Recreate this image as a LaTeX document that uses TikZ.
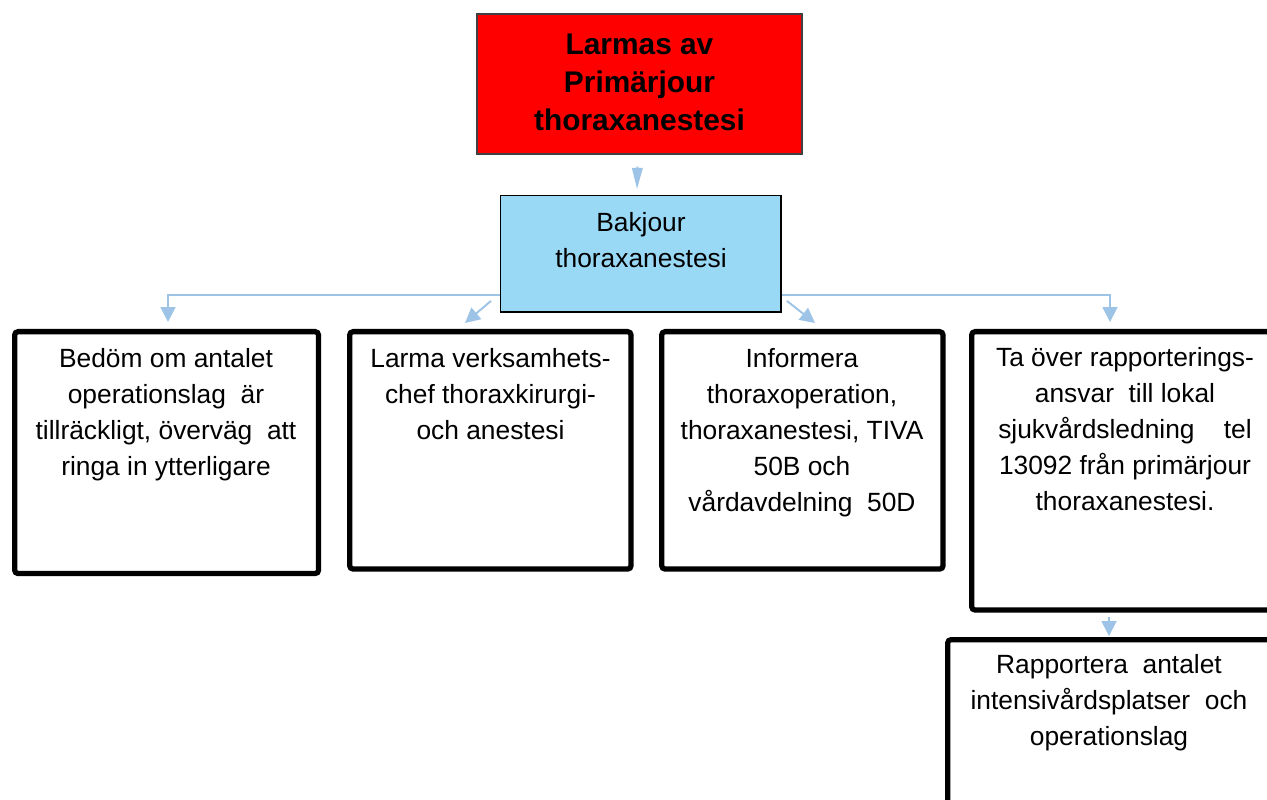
\documentclass[tikz,border=0pt]{standalone}
\usepackage{fontspec}
\setmainfont{Liberation Sans}
\usetikzlibrary{arrows.meta}

\definecolor{alarmred}{RGB}{255,0,0}
\definecolor{leadblue}{RGB}{153,217,245}
\definecolor{flowblue}{RGB}{157,195,230}

\tikzset{
  alarm/.style={draw=black!75, line width=1pt, fill=alarmred, anchor=north west, inner sep=0pt},
  lead/.style={draw=black, line width=0.8pt, fill=leadblue, anchor=north west, inner sep=0pt},
  task/.style={draw=black, line width=3pt, rounded corners=2pt, fill=white, anchor=north west, inner sep=0pt},
  txt/.style={anchor=north, align=center, inner sep=0pt, font=\fontsize{15pt}{20.5pt}\selectfont},
  flow/.style={draw=flowblue, line width=1.1pt, -{Triangle[width=8.5pt, length=8.5pt]}}
}

\begin{document}
\begin{tikzpicture}[x=0.02cm, y=-0.02cm]
\path[use as bounding box, clip] (0,0) rectangle (1267,800);

\node[alarm, minimum width=6.5cm, minimum height=2.8cm] (alarm) at (476,13) {};
\node[lead, minimum width=5.61cm, minimum height=2.33cm] (lead) at (500,195) {};

\node[task, minimum width=6.08cm, minimum height=4.84cm] (rate) at (12,329) {};
\node[task, minimum width=5.63cm, minimum height=4.75cm] (alert) at (347,329) {};
\node[task, minimum width=5.63cm, minimum height=4.75cm] (inform) at (659,329) {};
\node[task, minimum width=6.2cm, minimum height=5.57cm] (report) at (969,329) {};
\node[task, minimum width=6.5cm, minimum height=4.4cm] (count) at (945,637) {};

%%%%%%%%%%%%%%%%%%%%%%%%%%%%%%%%%%%%%%%%

\node[txt, font=\fontsize{17pt}{21.5pt}\selectfont\bfseries] (alarm-text) at (639.5,34)
  {Larmas av\\Primärjour\\thoraxanestesi};
\node[txt] (lead-text) at (641,212) {Bakjour\\thoraxanestesi};
\node[txt] (rate-text) at (166,348)
  {Bedöm om antalet\\operationslag~ är\\tillräckligt, överväg~ att\\ringa in ytterligare};
\node[txt] (alert-text) at (490.5,348)
  {Larma verksamhets-\\chef thoraxkirurgi-\\och anestesi};
\node[txt] (inform-text) at (802,348)
  {Informera\\thoraxoperation,\\thoraxanestesi, TIVA\\50B och\\vårdavdelning~ 50D};
\node[txt] (report-text) at (1125,347)
  {Ta över rapporterings-\\ansvar~ till lokal\\sjukvårdsledning~ ~ tel\\13092 från primärjour\\thoraxanestesi.};
\node[txt] (count-text) at (1109,654)
  {Rapportera~ antalet\\intensivårdsplatser~ och\\operationslag};

%%%%%%%%%%%%%%%%%%%%%%%%%%%%%%%%%%%%%%%%

\coordinate (lead-in) at (637,189);
\coordinate (rate-in) at (168,322);
\coordinate (alert-in) at (465,323);
\coordinate (inform-in) at (815,323);
\coordinate (report-in) at (1110,322);
\coordinate (count-in) at (1109,636);

\draw[flow, -{Triangle[width=6pt, length=12pt]}] (alarm.south) ++(-2,12) -- (lead-in);
\draw[flow] (lead.south west) ++(0,-18) -| (rate-in);
\draw[flow] (lead.south west) ++(-9,-12) -- (alert-in);
\draw[flow] (lead.south east) ++(5,-12) -- (inform-in);
\draw[flow] (lead.south east) ++(0,-18) -| (report-in);
\draw[flow] (report.south west) ++(140,4) -- (count-in);

\end{tikzpicture}
\end{document}
